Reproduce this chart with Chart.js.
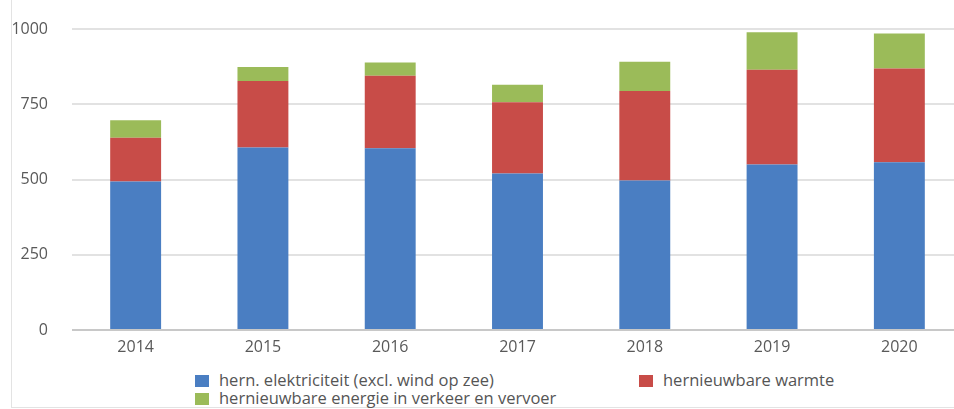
<!DOCTYPE html>
<html>
<head>
<meta charset="utf-8">
<script src="https://cdn.jsdelivr.net/npm/chart.js@4"></script>
<style>
  body { margin: 0; background: #fff; overflow: hidden; width: 954px; height: 409px; position: relative; font-family: "Open Sans", sans-serif; }
  #frame { position: absolute; left: 11px; top: 0; width: 960px; height: 407px; border-left: 1px solid #e3e3e3; border-bottom: 1px solid #e3e3e3; }
  #barChart { position: absolute; left: 0; top: 0; }
  .legend-item { position: absolute; font-size: 16.5px; color: #555; line-height: 18px; white-space: nowrap; }
  .legend-item span { display: inline-block; width: 14px; height: 12px; margin-right: 10px; vertical-align: -1px; }
</style>
</head>
<body>
<div id="frame"></div>
<canvas id="barChart" width="964" height="361"></canvas>
<div id="legend"></div>
<script>
const years = ['2014', '2015', '2016', '2017', '2018', '2019', '2020'];
const elektriciteit = [493, 606, 604, 520, 497, 550, 557];
const warmte = [146, 221, 241, 237, 297, 315, 312];
const verkeer = [58, 47, 44, 58, 97, 124, 116];
const yTicks = [0, 250, 500, 750, 1000];

const seriesNames = [
    'hern. elektriciteit (excl. wind op zee)',
    'hernieuwbare warmte',
    'hernieuwbare energie in verkeer en vervoer'
];
const seriesColors = ['#4a7ec2', '#c84c48', '#9bbb59'];

// legend is laid out by hand: two columns, two rows
const legendPos = [[195, 371], [639, 371], [195, 389]];
const legendBox = document.getElementById('legend');
seriesNames.forEach(function (name, i) {
    const item = document.createElement('div');
    item.className = 'legend-item';
    item.style.left = legendPos[i][0] + 'px';
    item.style.top = legendPos[i][1] + 'px';
    item.innerHTML = '<span style="background:' + seriesColors[i] + '"></span>' + name;
    legendBox.appendChild(item);
});

const ctx = document.getElementById('barChart');
const tickFont = { family: 'Open Sans', size: 16 };

window.chart = new Chart(ctx, {
    type: 'bar',
    data: {
        labels: years,
        datasets: [
            { label: seriesNames[0], data: elektriciteit, backgroundColor: seriesColors[0] },
            { label: seriesNames[1], data: warmte, backgroundColor: seriesColors[1] },
            { label: seriesNames[2], data: verkeer, backgroundColor: seriesColors[2] }
        ]
    },
    options: {
        responsive: false,
        animation: false,
        layout: { padding: { top: 29, right: 1, left: 0, bottom: 0 } },
        datasets: { bar: { barPercentage: 0.4, categoryPercentage: 1 } },
        plugins: { legend: { display: false }, tooltip: { enabled: false } },
        scales: {
            x: {
                stacked: true,
                grid: { display: false, drawTicks: false },
                border: { display: false },
                ticks: { color: '#595959', font: tickFont, padding: 8 },
                afterFit: function (scale) { scale.height = 31; }
            },
            y: {
                stacked: true,
                min: 0,
                max: 1000,
                afterBuildTicks: function (scale) {
                    scale.ticks = yTicks.map(v => ({ value: v }));
                },
                grid: {
                    drawTicks: true,
                    tickLength: 20,
                    tickColor: 'rgba(0,0,0,0)',
                    lineWidth: 2,
                    color: c => c.tick && c.tick.value === 0 ? '#c8c8c8' : '#e2e2e2'
                },
                border: { display: false },
                ticks: {
                    color: '#595959',
                    font: tickFont,
                    padding: 4,
                    callback: v => String(v)
                },
                afterFit: function (scale) { scale.width = 72; }
            }
        }
    }
});
</script>
</body>
</html>
